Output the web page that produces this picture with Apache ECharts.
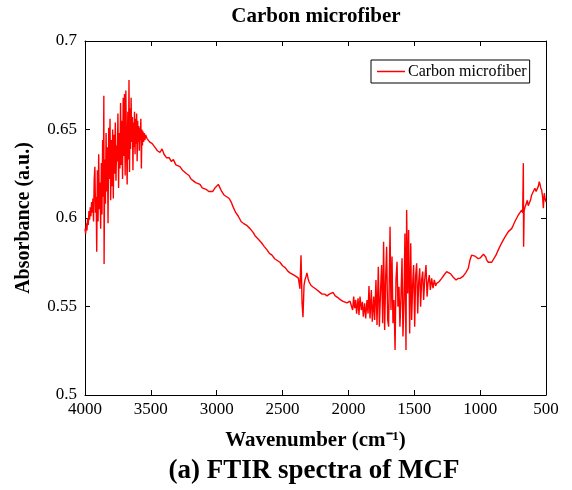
<!DOCTYPE html>
<html>
<head>
<meta charset="utf-8">
<title>FTIR spectra of MCF</title>
<script src="https://cdn.jsdelivr.net/npm/echarts@6/dist/echarts.min.js"></script>
<style>
  html, body { margin: 0; padding: 0; background: #fff; }
  #chart { width: 572px; height: 490px; }
</style>
</head>
<body>
<div id="chart"></div>
<script>
  // values, [wavenumber, absorbance]
  const xTicks = [4000, 3500, 3000, 2500, 2000, 1500, 1000, 500]
  const yTicks = [0.5, 0.55, 0.6, 0.65, 0.7]

  // 4000-3540: noisy O-H band
  const ohBand = [
    [4000, 0.594], [3995, 0.591], [3990, 0.597], [3985, 0.593], [3980, 0.600], [3975, 0.596],
    [3970, 0.604], [3965, 0.599], [3960, 0.606], [3955, 0.601], [3950, 0.609], [3945, 0.603],
    [3940, 0.611], [3935, 0.598], [3930, 0.622], [3925, 0.629], [3920, 0.603], [3915, 0.612],
    [3911, 0.581], [3906, 0.627], [3901, 0.598], [3896, 0.636], [3891, 0.605], [3886, 0.620],
    [3881, 0.594], [3876, 0.631], [3871, 0.602], [3866, 0.644], [3861, 0.612], [3857, 0.669],
    [3855, 0.574], [3850, 0.633], [3845, 0.608], [3840, 0.648], [3835, 0.615], [3830, 0.640],
    [3825, 0.597], [3820, 0.651], [3815, 0.622], [3810, 0.656], [3805, 0.610], [3800, 0.644],
    [3795, 0.618], [3790, 0.650], [3785, 0.611], [3780, 0.647], [3775, 0.625], [3770, 0.654],
    [3765, 0.621], [3760, 0.641], [3755, 0.632], [3750, 0.659], [3745, 0.617], [3740, 0.648],
    [3735, 0.628], [3730, 0.665], [3725, 0.630], [3720, 0.655], [3715, 0.622], [3710, 0.668],
    [3705, 0.635], [3700, 0.670], [3695, 0.624], [3690, 0.672], [3685, 0.640], [3680, 0.619],
    [3675, 0.660], [3670, 0.633], [3666, 0.678], [3662, 0.626], [3658, 0.662], [3654, 0.639],
    [3650, 0.668], [3645, 0.643], [3640, 0.657], [3636, 0.627], [3632, 0.654], [3628, 0.640],
    [3624, 0.660], [3620, 0.636], [3616, 0.656], [3612, 0.642], [3608, 0.659], [3604, 0.632],
    [3600, 0.655], [3596, 0.643], [3592, 0.652], [3588, 0.638], [3584, 0.651], [3580, 0.644],
    [3576, 0.656], [3572, 0.628], [3568, 0.650], [3564, 0.641], [3560, 0.649], [3555, 0.643],
    [3550, 0.648], [3545, 0.644], [3540, 0.647]
  ]

  // 3530-1988: smooth decline with the CO2 doublet near 2350
  const midBand = [
    [3530, 0.645], [3510, 0.643], [3490, 0.642], [3470, 0.640], [3450, 0.638], [3431, 0.637],
    [3415, 0.639], [3400, 0.636], [3380, 0.634], [3360, 0.634], [3345, 0.632], [3329, 0.633],
    [3310, 0.630], [3295, 0.630], [3279, 0.629], [3260, 0.627], [3245, 0.626], [3228, 0.625],
    [3210, 0.624], [3195, 0.622], [3177, 0.621], [3160, 0.620], [3145, 0.619], [3127, 0.619],
    [3110, 0.617], [3095, 0.617], [3076, 0.616], [3060, 0.615], [3045, 0.614], [3030, 0.615],
    [3013, 0.617], [3000, 0.618], [2988, 0.619], [2975, 0.617], [2962, 0.615], [2945, 0.613],
    [2924, 0.612], [2905, 0.611], [2890, 0.609], [2874, 0.606], [2855, 0.603], [2836, 0.601],
    [2815, 0.598], [2798, 0.597], [2775, 0.596], [2747, 0.594], [2725, 0.592], [2709, 0.590],
    [2684, 0.588], [2660, 0.586], [2640, 0.584], [2618, 0.582], [2600, 0.580], [2580, 0.579],
    [2560, 0.577], [2540, 0.576], [2520, 0.575], [2500, 0.573], [2480, 0.572], [2460, 0.570],
    [2444, 0.569], [2420, 0.568], [2398, 0.567], [2380, 0.566], [2368, 0.560], [2360, 0.579],
    [2352, 0.552], [2345, 0.544], [2337, 0.562], [2330, 0.565], [2322, 0.567], [2315, 0.569],
    [2307, 0.566], [2299, 0.564], [2285, 0.562], [2269, 0.561], [2250, 0.560], [2235, 0.559],
    [2216, 0.558], [2200, 0.557], [2180, 0.557], [2163, 0.556], [2145, 0.557], [2130, 0.558],
    [2117, 0.558], [2100, 0.556], [2080, 0.555], [2064, 0.554], [2045, 0.553], [2030, 0.552],
    [2011, 0.552], [2000, 0.551], [1988, 0.553]
  ]

  // 1975-1330: noisy water vapour region
  const waterBand = [
    [1975, 0.5537], [1968, 0.548], [1960, 0.5556], [1953, 0.549], [1945, 0.5537], [1938, 0.546],
    [1927, 0.5546], [1920, 0.5452], [1912, 0.5556], [1902, 0.548], [1894, 0.5527], [1887, 0.5443],
    [1877, 0.5518], [1869, 0.5433], [1859, 0.5537], [1851, 0.546], [1844, 0.5616], [1836, 0.5433],
    [1826, 0.5593], [1819, 0.5414], [1808, 0.5556], [1801, 0.5424], [1791, 0.565], [1783, 0.5395],
    [1773, 0.5725], [1765, 0.5386], [1755, 0.5612], [1748, 0.5734], [1740, 0.5405], [1733, 0.5866],
    [1725, 0.5367], [1717, 0.5669], [1710, 0.5838], [1702, 0.5424], [1695, 0.5386], [1684, 0.5951],
    [1677, 0.548], [1669, 0.5782], [1662, 0.5405], [1654, 0.5537], [1646, 0.5254], [1639, 0.565],
    [1631, 0.5753], [1624, 0.5499], [1616, 0.5612], [1609, 0.5386], [1601, 0.5556], [1593, 0.5772],
    [1586, 0.533], [1578, 0.5537], [1571, 0.5913], [1563, 0.5254], [1558, 0.6045], [1550, 0.5574],
    [1543, 0.5932], [1535, 0.5348], [1527, 0.5857], [1520, 0.5424], [1512, 0.5631], [1505, 0.5734],
    [1497, 0.5386], [1490, 0.5669], [1482, 0.5744], [1474, 0.546], [1467, 0.5631], [1459, 0.5716],
    [1452, 0.5499], [1444, 0.565], [1436, 0.5697], [1429, 0.5537], [1421, 0.565], [1411, 0.5734],
    [1403, 0.5556], [1396, 0.5631], [1386, 0.5678], [1378, 0.5593], [1368, 0.5659], [1358, 0.5603],
    [1348, 0.565], [1338, 0.5616], [1330, 0.5631]
  ]

  // 1312-500: fingerprint region
  const lowBand = [
    [1312, 0.564], [1292, 0.5659], [1274, 0.5678], [1254, 0.5697], [1239, 0.570], [1224, 0.5684],
    [1204, 0.5665], [1183, 0.565], [1166, 0.5659], [1150, 0.566], [1130, 0.567], [1110, 0.569],
    [1090, 0.5716], [1077, 0.5763], [1065, 0.579], [1052, 0.580], [1040, 0.5785], [1027, 0.578],
    [1015, 0.577], [1006, 0.576], [998, 0.5775], [989, 0.578], [975, 0.5795], [963, 0.5804],
    [957, 0.578], [951, 0.5763], [938, 0.575], [925, 0.5748], [912, 0.575], [900, 0.576],
    [880, 0.579], [862, 0.582], [843, 0.585], [824, 0.5876], [805, 0.590], [786, 0.5923],
    [773, 0.593], [761, 0.594], [748, 0.596], [736, 0.598], [722, 0.600], [710, 0.6017],
    [698, 0.603], [685, 0.6045], [677, 0.603], [672, 0.631], [670, 0.5838], [666, 0.604],
    [660, 0.606], [650, 0.608], [642, 0.610], [635, 0.607], [627, 0.606], [618, 0.610],
    [609, 0.613], [596, 0.615], [584, 0.6168], [575, 0.615], [566, 0.614], [558, 0.618],
    [551, 0.6205], [545, 0.619], [540, 0.617], [533, 0.6158], [526, 0.612], [520, 0.6055],
    [516, 0.611], [513, 0.614], [507, 0.611], [500, 0.609]
  ]

  const spectrum = ohBand.concat(midBand, waterBand, lowBand)

  const FONT = '"Liberation Serif", "Times New Roman", serif'
  const AXIS_LINE = {show: true, onZero: false, lineStyle: {color: '#000', width: 1}}
  const AXIS_TICK = {show: true, inside: true, length: 5, lineStyle: {color: '#000', width: 1}}

  const chart = echarts.init(document.getElementById('chart'))
  chart.setOption({
    animation: false,
    backgroundColor: '#fff',
    grid: {left: 85, right: 26, top: 41, bottom: 95},
    graphic: [
      {
        type: 'text', x: 316, y: 17,
        style: {text: 'Carbon microfiber', fill: '#000', fontFamily: FONT, fontWeight: 'bold',
          fontSize: 21, align: 'center', verticalAlign: 'middle'}
      },
      {
        type: 'text', x: 314, y: 471,
        style: {text: '(a) FTIR spectra of MCF', fill: '#000', fontFamily: FONT, fontWeight: 'bold',
          fontSize: 27, align: 'center', verticalAlign: 'middle'}
      }
    ],
    legend: {
      left: 371,
      top: 60,
      orient: 'vertical',
      padding: [3, 3, 3, 6],
      backgroundColor: '#fff',
      borderColor: '#000',
      borderWidth: 1,
      borderRadius: 0,
      itemWidth: 28,
      itemHeight: 1.5,
      itemGap: 0,
      textStyle: {fontFamily: FONT, fontSize: 16, color: '#000', padding: [0, 0, 0, -2], lineHeight: 17},
      data: [{name: 'Carbon microfiber', icon: 'rect', itemStyle: {color: '#ff0000'}}]
    },
    xAxis: [
      {
        type: 'value',
        position: 'bottom',
        min: 500,
        max: 4000,
        interval: 500,
        inverse: true,
        axisLine: AXIS_LINE,
        axisTick: AXIS_TICK,
        splitLine: {show: false},
        axisLabel: {fontFamily: FONT, fontSize: 17, color: '#000', margin: 6,
          formatter: v => xTicks.includes(v) ? String(v) : ''},
        name: 'Wavenumber (cm⁻¹)',
        nameLocation: 'middle',
        nameGap: 35,
        nameTextStyle: {fontFamily: FONT, fontWeight: 'bold', fontSize: 21, color: '#000'}
      },
      {
        type: 'value',
        position: 'top',
        min: 500,
        max: 4000,
        interval: 500,
        inverse: true,
        axisLine: AXIS_LINE,
        axisTick: AXIS_TICK,
        splitLine: {show: false},
        axisLabel: {show: false}
      }
    ],
    yAxis: [
      {
        type: 'value',
        position: 'left',
        min: 0.5,
        max: 0.7,
        interval: 0.05,
        axisLine: AXIS_LINE,
        axisTick: AXIS_TICK,
        splitLine: {show: false},
        axisLabel: {fontFamily: FONT, fontSize: 17, color: '#000', margin: 8,
          formatter: v => {
            const t = yTicks.find(y => Math.abs(y - v) < 1e-9)
            return t === undefined ? '' : String(t)
          }},
        name: 'Absorbance (a.u.)',
        nameLocation: 'middle',
        nameGap: 51,
        nameTextStyle: {fontFamily: FONT, fontWeight: 'bold', fontSize: 20, color: '#000'}
      },
      {
        type: 'value',
        position: 'right',
        min: 0.5,
        max: 0.7,
        interval: 0.05,
        axisLine: AXIS_LINE,
        axisTick: AXIS_TICK,
        splitLine: {show: false},
        axisLabel: {show: false}
      }
    ],
    series: [
      {
        name: 'Carbon microfiber',
        type: 'line',
        xAxisIndex: 0,
        yAxisIndex: 0,
        data: spectrum,
        symbol: 'none',
        showSymbol: false,
        smooth: false,
        color: '#ff0000',
        lineStyle: {color: '#ff0000', width: 1.4},
        emphasis: {disabled: true}
      }
    ]
  })
</script>
</body>
</html>
